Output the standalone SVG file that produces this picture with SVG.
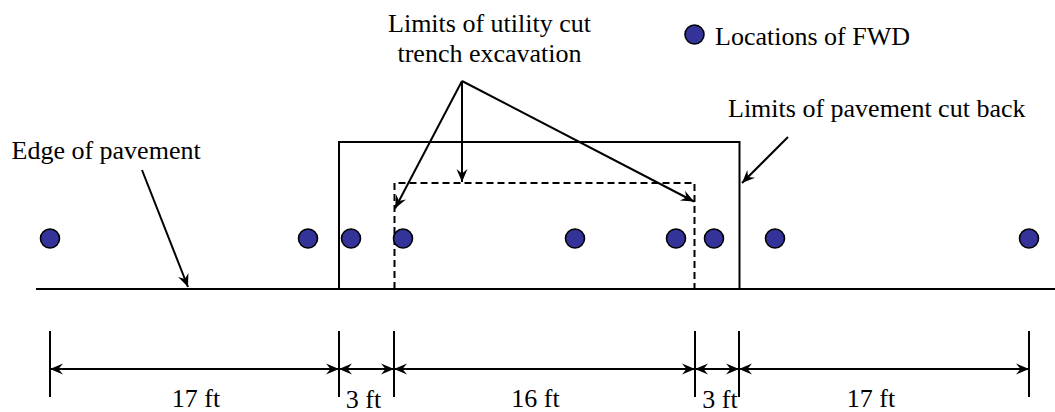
<svg xmlns="http://www.w3.org/2000/svg" width="1055" height="412" viewBox="0 0 1055 412">
<style>
.t{font-family:"Liberation Serif","Times New Roman","DejaVu Serif",serif;font-size:26px;fill:#000}
.ln{stroke:#000;stroke-width:2;fill:none}
.dash{stroke:#000;stroke-width:2;fill:none;stroke-dasharray:7,4}
.dot{fill:#333399;stroke:#000;stroke-width:1.6}
.arr{stroke:#000;stroke-width:2;fill:none;marker-end:url(#ah)}
.dim{stroke:#000;stroke-width:2;fill:none;marker-start:url(#ah2);marker-end:url(#ah)}
</style>
<defs>
<marker id="ah" viewBox="-14 -6 15 12" refX="0" refY="0" markerWidth="15" markerHeight="12" markerUnits="userSpaceOnUse" orient="auto">
<path d="M0,0 L-13,-5.5 L-8.5,0 L-13,5.5 Z" fill="#000"/>
</marker>
<marker id="ah2" viewBox="-1 -6 15 12" refX="0" refY="0" markerWidth="15" markerHeight="12" markerUnits="userSpaceOnUse" orient="auto">
<path d="M0,0 L13,-5.5 L8.5,0 L13,5.5 Z" fill="#000"/>
</marker>
</defs>
<g id="pavement">
<line class="ln" x1="36" y1="289" x2="1055" y2="289"/>
</g>
<g id="cutback-box">
<rect class="ln" x="339" y="142" width="400.5" height="147"/>
</g>
<g id="trench-box">
<path class="dash" d="M394.5,289 V183 H694.5 V289"/>
</g>
<g id="fwd-points">
<circle class="dot" cx="50" cy="238.5" r="9.5"/>
<circle class="dot" cx="308" cy="238.5" r="9.5"/>
<circle class="dot" cx="351" cy="238.5" r="9.5"/>
<circle class="dot" cx="403" cy="238.5" r="9.5"/>
<circle class="dot" cx="575" cy="238.5" r="9.5"/>
<circle class="dot" cx="676" cy="238.5" r="9.5"/>
<circle class="dot" cx="714" cy="238.5" r="9.5"/>
<circle class="dot" cx="775" cy="238.5" r="9.5"/>
<circle class="dot" cx="1029" cy="238.5" r="9.5"/>
</g>
<g font-family="Liberation Serif, serif" font-size="26">
<g id="legend">
<circle class="dot" cx="694.5" cy="34.5" r="9.5"/>
<text class="t" x="715" y="45">Locations of FWD</text>
</g>
<g id="label-trench">
<text class="t" x="489.5" y="31.5" text-anchor="middle">Limits of utility cut</text>
<text class="t" x="489.5" y="61.5" text-anchor="middle">trench excavation</text>
</g>
<g id="label-cutback">
<text class="t" x="728" y="117">Limits of pavement cut back</text>
</g>
<g id="label-edge">
<text class="t" x="11.5" y="159">Edge of pavement</text>
</g>
</g>
<g id="connectors">
<line class="arr" x1="462" y1="81" x2="462" y2="182"/>
<line class="arr" x1="462" y1="81" x2="395" y2="208.5"/>
<line class="arr" x1="462" y1="81" x2="694" y2="201.5"/>
<line class="arr" x1="788" y1="137" x2="742" y2="183"/>
<line class="arr" x1="142" y1="170" x2="188" y2="287"/>
</g>
<g id="dimensions">
<g class="ln">
<line x1="50" y1="331" x2="50" y2="397"/>
<line x1="339" y1="331" x2="339" y2="397"/>
<line x1="394" y1="331" x2="394" y2="397"/>
<line x1="695" y1="331" x2="695" y2="397"/>
<line x1="739" y1="331" x2="739" y2="397"/>
<line x1="1029" y1="331" x2="1029" y2="397"/>
</g>
<line class="dim" x1="50" y1="369" x2="339" y2="369"/>
<line class="dim" x1="339" y1="369" x2="394" y2="369"/>
<line class="dim" x1="394" y1="369" x2="695" y2="369"/>
<line class="dim" x1="695" y1="369" x2="739" y2="369"/>
<line class="dim" x1="739" y1="369" x2="1029" y2="369"/>
<g font-family="Liberation Serif, serif" font-size="26">
<text class="t" x="196" y="406.5" text-anchor="middle">17 ft</text>
<text class="t" x="363.5" y="407.5" text-anchor="middle">3 ft</text>
<text class="t" x="535.5" y="406.5" text-anchor="middle">16 ft</text>
<text class="t" x="720" y="407.5" text-anchor="middle">3 ft</text>
<text class="t" x="871" y="406.5" text-anchor="middle">17 ft</text>
</g>
</g>
</svg>
